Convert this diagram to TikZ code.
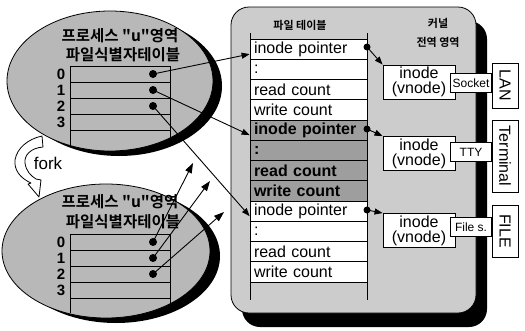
\documentclass[tikz,border=0pt]{standalone}
\usepackage{fontspec}
\setmainfont{Liberation Sans}
\newfontfamily\krb{Noto Sans CJK KR}[UprightFont=* Bold]
\usetikzlibrary{arrows.meta,shapes.geometric}
\begin{document}
\begin{tikzpicture}[x=1pt,y=-1pt,
  tri/.style={-{Triangle[length=8pt,width=6pt]}, line width=0.9pt},
  bigtri/.style={-{Triangle[length=10pt,width=7pt]}, line width=0.9pt},
  dotn/.style={circle,fill=black,inner sep=0pt,minimum size=8pt},
  ell/.style={ellipse,draw,line width=0.8pt,fill=black!28,inner sep=0pt},
  ellsh/.style={ellipse,fill=black,inner sep=0pt},
  rowbox/.style={draw,line width=0.8pt,fill=white,text width=109pt,align=left,inner xsep=4pt,inner ysep=0pt,minimum height=20.25pt,font=\fontsize{16}{16}\selectfont},
  rowdark/.style={rowbox,fill=black!38,font=\fontsize{16}{16}\selectfont\bfseries},
  inodebox/.style={draw,line width=0.9pt,fill=white,minimum width=72pt,minimum height=34pt,inner sep=0pt,align=center,font=\fontsize{16}{15}\selectfont},
  tagbox/.style={draw,line width=0.9pt,fill=white,inner sep=1pt,minimum width=41pt,minimum height=19pt,font=\fontsize{12}{12}\selectfont},
  devbox/.style={draw,line width=0.9pt,fill=white,minimum height=26pt,inner sep=0pt,rotate=-90,font=\fontsize{16}{16}\selectfont},
  krtitle/.style={inner sep=0pt,font=\krb\fontsize{15.5}{15.5}\selectfont},
  krsmall/.style={inner sep=0pt,font=\krb\fontsize{11}{11}\selectfont},
  digit/.style={inner sep=0pt,font=\fontsize{15}{15}\selectfont\bfseries},
  tl/.style={line width=0.8pt}
]
\useasboundingbox[fill=white] (0,0) rectangle (525,330);

% ---------- kernel box ----------
\node[fill=black,rounded corners=18pt,minimum width=245pt,minimum height=306pt,inner sep=0pt] (kernsh) at (364.5,174) {};
\node[draw,line width=0.8pt,fill=black!20,rounded corners=18pt,minimum width=245pt,minimum height=306pt,inner sep=0pt] (kern) at (353.5,160) {};

% ---------- process ellipses ----------
\node[ellsh,minimum width=206pt,minimum height=140pt] (sh1) at (119,86) {};
\node[ell,minimum width=206pt,minimum height=140pt] (pe1) at (110,81) {};
\node[ellsh,minimum width=208pt,minimum height=134pt] (sh2) at (116,256) {};
\node[ell,minimum width=208pt,minimum height=134pt] (pe2) at (106,251) {};

% titles
\node[krtitle] (t1) at (120,36) {프로세스 "u"영역};
\node[krtitle] (t1b) at (123,55) {파일식별자테이블};
\node[krtitle] (t2) at (120,202) {프로세스 "u"영역};
\node[krtitle] (t2b) at (123,222) {파일식별자테이블};

% top fd table
\foreach \yy in {66,82,98,114,130} \draw[tl] (70,\yy) -- (170,\yy);
\draw[tl] (70,66) -- (70,146);
\draw[tl] (170,66) -- (170,139);
\node[digit] (a0) at (61,74) {0};
\node[digit] (a1) at (61,90) {1};
\node[digit] (a2) at (61,106) {2};
\node[digit] (a3) at (61,122) {3};
\node[dotn] (d0) at (153,74) {};
\node[dotn] (d1) at (153,90) {};
\node[dotn] (d2) at (153,106) {};

% bottom fd table
\foreach \yy in {234,250,266,282,298} \draw[tl] (70,\yy) -- (170,\yy);
\draw[tl] (70,234) -- (70,313);
\draw[tl] (170,234) -- (170,305);
\node[digit] (b0) at (61,242) {0};
\node[digit] (b1) at (61,258) {1};
\node[digit] (b2) at (61,274) {2};
\node[digit] (b3) at (61,290) {3};
\node[dotn] (e0) at (153,242) {};
\node[dotn] (e1) at (153,258) {};
\node[dotn] (e2) at (153,274) {};

% ---------- file table ----------
\node[krsmall] (fth) at (300,25) {파일 테이블};
\draw[tl] (250,33) -- (250,300);
\draw[tl] (367,33) -- (367,300);
\node[rowbox]  (r1)  at (308.5,49.1)  {inode pointer};
\node[rowbox]  (r2)  at (308.5,69.4)  {:};
\node[rowbox]  (r3)  at (308.5,89.6)  {read count};
\node[rowbox]  (r4)  at (308.5,109.9) {write count};
\node[rowdark] (r5)  at (308.5,130.1) {inode pointer};
\node[rowdark] (r6)  at (308.5,150.4) {:};
\node[rowdark] (r7)  at (308.5,170.6) {read count};
\node[rowdark] (r8)  at (308.5,190.9) {write count};
\node[rowbox]  (r9)  at (308.5,211.1) {inode pointer};
\node[rowbox]  (r10) at (308.5,231.4) {:};
\node[rowbox]  (r11) at (308.5,251.6) {read count};
\node[rowbox]  (r12) at (308.5,271.9) {write count};

\node[dotn,minimum size=7pt] (p1) at (367,47) {};
\node[dotn,minimum size=7pt] (p2) at (367,129) {};
\node[dotn,minimum size=7pt] (p3) at (367,210) {};

% ---------- kernel area ----------
\node[krsmall] (k1) at (438,23) {커널};
\node[krsmall] (k2) at (438,42) {전역 영역};

\node[inodebox] (n1) at (419,82)    {inode\\(vnode)};
\node[inodebox] (n2) at (419,153.5) {inode\\(vnode)};
\node[inodebox] (n3) at (419,230.5) {inode\\(vnode)};

\node[devbox,minimum width=45pt] (lan)  at (505,85.5)  {LAN};
\node[devbox,minimum width=72pt] (term) at (505,156) {Terminal};
\node[devbox,minimum width=52pt] (file) at (505,231) {FILE};

\node[tagbox,anchor=east] (s1) at (492,83)  {Socket};
\node[tagbox,anchor=east] (s2) at (492,152) {TTY};
\node[tagbox,anchor=east] (s3) at (492,227) {File s.};

% ---------- connectors ----------
\draw[tri] (d0.center) -- ([yshift=-5pt]r1.west);
\draw[tri] (d1.center) -- ([yshift=-5pt]r5.west);
\draw[tri] (d2.center) -- ([yshift=-5pt]r9.west);

\coordinate (c1) at (193,163);
\coordinate (c2) at (210,181);
\coordinate (c3) at (224,212);
\draw[bigtri] (e0.center) -- (c1);
\draw[bigtri] (e1.center) -- (c2);
\draw[bigtri] (e2.center) -- (c3);

\draw[tri] (p1.center) -- (n1.north west);
\draw[tri] (p2.center) -- (n2.north west);
\draw[tri] (p3.center) -- (n3.north west);

% ---------- fork ----------
\draw[line width=0.8pt,fill=white,line join=round]
  (42,136) -- (43,147) .. controls (31,148) and (24,155) .. (25,163)
  .. controls (26,171) and (31,176) .. (36,179) -- (41,180) -- (39,197) -- (28,184) -- (31,183)
  .. controls (20,178) and (14,170) .. (15,160) .. controls (17,148) and (28,139) .. (42,136) -- cycle;
\node[inner sep=0pt,font=\fontsize{17}{17}\selectfont] (fork) at (48,163) {fork};
\end{tikzpicture}
\end{document}
